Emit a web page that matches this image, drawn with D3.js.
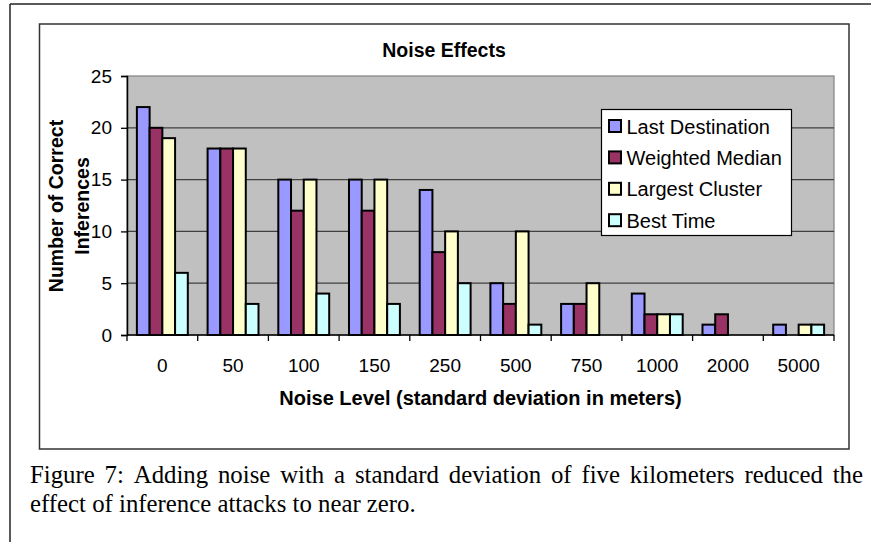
<!DOCTYPE html>
<html>
<head>
<meta charset="utf-8">
<script src="https://cdn.jsdelivr.net/npm/d3@7"></script>
<style>
  body { margin: 0; background: #fff; }
  svg { display: block; }
</style>
</head>
<body>
<svg id="chart" width="871" height="542"></svg>
<script>
// noise levels on the x axis
const noiseLevels = ["0", "50", "100", "150", "250", "500", "750", "1000", "2000", "5000"];
const seriesNames = ["Last Destination", "Weighted Median", "Largest Cluster", "Best Time"];
const lastDestination = [22, 18, 15, 15, 14, 5, 3, 4, 1, 1];
const weightedMedian  = [20, 18, 12, 12, 8, 3, 3, 2, 2, 0];
const largestCluster  = [19, 18, 15, 15, 10, 10, 5, 2, 0, 1];
const bestTime        = [6, 3, 4, 3, 5, 1, 0, 2, 0, 1];
const seriesColors = ["#9999ff", "#993366", "#ffffcc", "#ccffff"];
const yTicks = [0, 5, 10, 15, 20, 25];

const captionLines = [
  "Figure 7: Adding noise with a standard deviation of five kilometers reduced the",
  "effect of inference attacks to near zero."
];

const allSeries = [lastDestination, weightedMedian, largestCluster, bestTime];

const svg = d3.select("svg#chart");
const sans = "'Liberation Sans', Arial, sans-serif";

// outer page frame + chart frame
svg.append("line").attr("x1", 10).attr("x2", 10).attr("y1", 4).attr("y2", 542)
  .attr("stroke", "#222").attr("stroke-width", 1.5);
svg.append("line").attr("x1", 10).attr("x2", 871).attr("y1", 4).attr("y2", 4)
  .attr("stroke", "#222").attr("stroke-width", 1.5);
svg.append("rect").attr("x", 39.5).attr("y", 24).attr("width", 809.5).attr("height", 425)
  .attr("fill", "#fff").attr("stroke", "#333").attr("stroke-width", 1.5);

const plot = { left: 127, right: 834, top: 76, bottom: 335 };

const x = d3.scaleBand().domain(noiseLevels).range([plot.left, plot.right]).padding(0);
const xInner = d3.scaleBand().domain(d3.range(4))
  .range([x.bandwidth() * 0.14, x.bandwidth() * 0.86]).padding(0);
const y = d3.scaleLinear().domain([0, 25]).range([plot.bottom, plot.top]);

// plot background
svg.append("rect")
  .attr("x", plot.left).attr("y", plot.top)
  .attr("width", plot.right - plot.left).attr("height", plot.bottom - plot.top)
  .attr("fill", "#c0c0c0").attr("stroke", "#808080").attr("stroke-width", 1.2);

// gridlines
svg.append("g")
  .selectAll("line")
  .data(yTicks.filter(d => d > 0 && d < 25))
  .join("line")
  .attr("x1", plot.left).attr("x2", plot.right)
  .attr("y1", d => y(d)).attr("y2", d => y(d))
  .attr("stroke", "#404040").attr("stroke-width", 1.3);

// bars
const groups = svg.append("g")
  .selectAll("g")
  .data(noiseLevels)
  .join("g")
  .attr("transform", d => `translate(${x(d)},0)`);

groups.selectAll("rect")
  .data((d, i) => allSeries.map((s, k) => ({ k: k, v: s[i] })).filter(e => e.v > 0))
  .join("rect")
  .attr("x", d => xInner(d.k))
  .attr("width", xInner.bandwidth())
  .attr("y", d => y(d.v))
  .attr("height", d => y(0) - y(d.v))
  .attr("fill", d => seriesColors[d.k])
  .attr("stroke", "#000")
  .attr("stroke-width", 2);

// y axis
const yAxis = svg.append("g")
  .attr("transform", `translate(${plot.left},0)`)
  .call(d3.axisLeft(y).tickValues(yTicks).tickSize(6).tickPadding(9));
yAxis.select(".domain").attr("stroke", "#000").attr("stroke-width", 1.5);
yAxis.selectAll(".tick line").attr("stroke", "#000").attr("stroke-width", 1.3);
yAxis.selectAll(".tick text")
  .attr("font-family", sans).attr("font-size", 19).attr("fill", "#000");

// x axis: ticks sit on category boundaries
const xAxis = svg.append("g").attr("transform", `translate(0,${plot.bottom})`);
xAxis.append("line").attr("x1", plot.left).attr("x2", plot.right)
  .attr("stroke", "#000").attr("stroke-width", 1.5);
xAxis.selectAll("line.tk")
  .data(noiseLevels.concat(["end"]))
  .join("line")
  .attr("class", "tk")
  .attr("x1", (d, i) => plot.left + i * x.step())
  .attr("x2", (d, i) => plot.left + i * x.step())
  .attr("y1", 0).attr("y2", 6)
  .attr("stroke", "#000").attr("stroke-width", 1.3);
xAxis.selectAll("text")
  .data(noiseLevels)
  .join("text")
  .attr("x", d => x(d) + x.bandwidth() / 2)
  .attr("y", 37)
  .attr("text-anchor", "middle")
  .attr("font-family", sans).attr("font-size", 19)
  .text(d => d);

// titles
svg.append("text")
  .attr("x", 444).attr("y", 56.5)
  .attr("text-anchor", "middle")
  .attr("font-family", sans).attr("font-size", 19.5).attr("font-weight", "bold")
  .text("Noise Effects");

svg.append("text")
  .attr("x", (plot.left + plot.right) / 2).attr("y", 405)
  .attr("text-anchor", "middle")
  .attr("font-family", sans).attr("font-size", 20).attr("font-weight", "bold")
  .text("Noise Level (standard deviation in meters)");

const yTitle = ["Number of Correct", "Inferences"];
svg.selectAll("text.ytitle")
  .data(yTitle)
  .join("text")
  .attr("class", "ytitle")
  .attr("transform", (d, i) => `translate(${63 + i * 26},206) rotate(-90)`)
  .attr("text-anchor", "middle")
  .attr("font-family", sans).attr("font-size", 19.5).attr("font-weight", "bold")
  .text(d => d);

// legend
const legend = svg.append("g").attr("transform", "translate(601.5,109.5)");
legend.append("rect")
  .attr("width", 190).attr("height", 126)
  .attr("fill", "#fff").attr("stroke", "#000").attr("stroke-width", 1.2);
const items = legend.selectAll("g")
  .data(seriesNames)
  .join("g")
  .attr("transform", (d, i) => `translate(0,${i * 31.4})`);
items.append("rect")
  .attr("x", 7.5).attr("y", 10.5)
  .attr("width", 12).attr("height", 12)
  .attr("fill", (d, i) => seriesColors[i])
  .attr("stroke", "#000").attr("stroke-width", 2);
items.append("text")
  .attr("x", 25).attr("y", 24)
  .attr("font-family", sans).attr("font-size", 20)
  .text(d => d);

// caption, first line justified across the frame
const serif = "'Liberation Serif', 'Times New Roman', serif";
const capSize = 24.8;

function justifyLine(text, yPos, width) {
  const g = svg.append("g").attr("transform", `translate(30,${yPos})`);
  const words = text.split(" ");
  const nodes = words.map(w => g.append("text")
    .attr("font-family", serif).attr("font-size", capSize).attr("y", 0).text(w));
  const widths = nodes.map(n => n.node().getComputedTextLength());
  const total = d3.sum(widths);
  const gap = (width - total) / (words.length - 1);
  let pos = 0;
  nodes.forEach((n, i) => { n.attr("x", pos); pos += widths[i] + gap; });
}

justifyLine(captionLines[0], 483, 833);
svg.append("text")
  .attr("x", 30).attr("y", 511.5)
  .attr("font-family", serif).attr("font-size", capSize)
  .text(captionLines[1]);
</script>
</body>
</html>
